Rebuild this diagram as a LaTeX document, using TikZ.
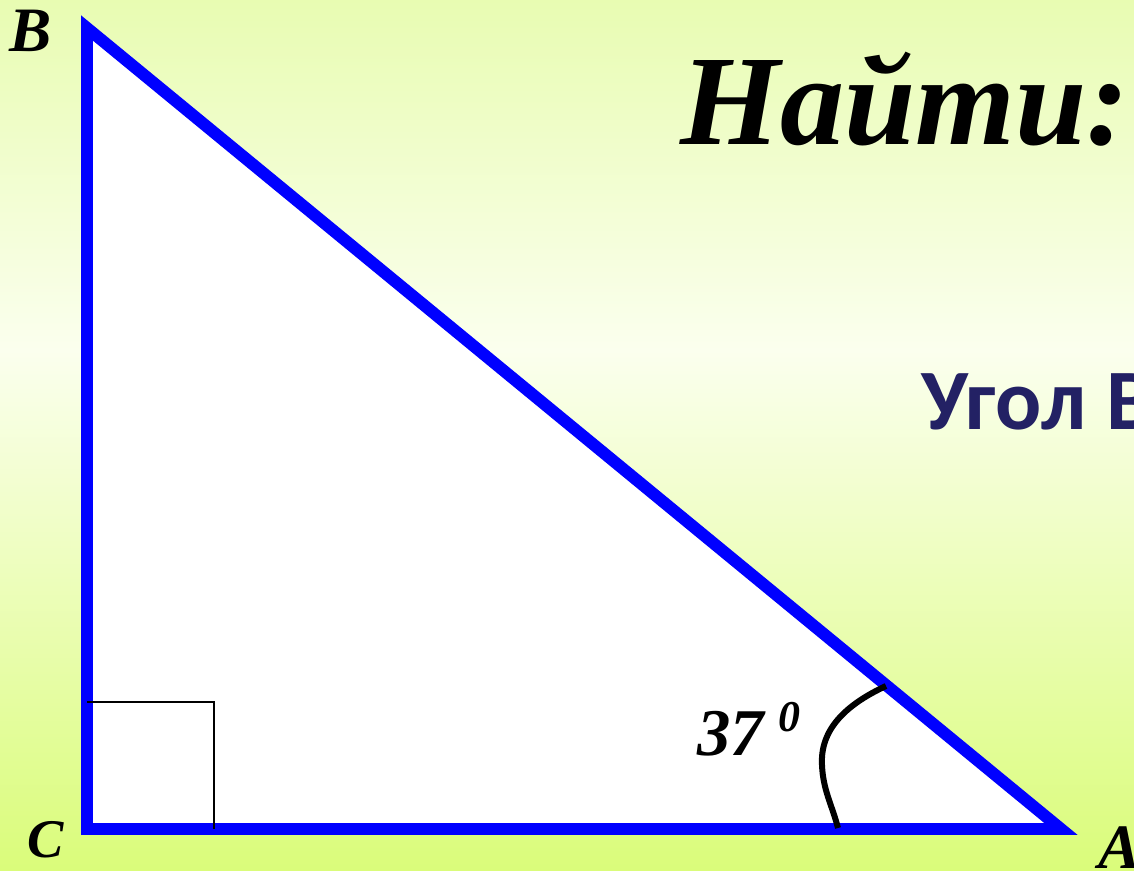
\documentclass[tikz,border=0pt]{standalone}
\usepackage{fontspec}
\setmainfont{Liberation Serif}
\newfontfamily\ugolfont{Carlito}
\usetikzlibrary{positioning}
\definecolor{bgtop}{RGB}{232,252,178}
\definecolor{bgmid}{RGB}{251,255,238}
\definecolor{bgbot}{RGB}{218,252,122}
\definecolor{ugolblue}{RGB}{35,33,100}

\begin{document}
\begin{tikzpicture}[x=0.02cm,y=-0.02cm]
  \tikzstyle{side}=[draw=blue, fill=white, line width=0.24cm, miter limit=10]
  \tikzstyle{rightmark}=[draw=black, line width=0.75pt]
  \tikzstyle{anglemark}=[draw=black, line width=0.12cm]
  \tikzstyle{vertex}=[inner sep=0pt, font=\fontsize{36}{40}\selectfont\bfseries\itshape]
  \useasboundingbox (0,0) rectangle (1134,871);
  \clip (0,0) rectangle (1134,871);
  \shade[top color=bgtop, bottom color=bgmid] (0,0) rectangle (1134,350);
  \shade[top color=bgmid, bottom color=bgbot] (0,350) rectangle (1134,871);
  % triangle
  \coordinate (B) at (87,28);
  \coordinate (C) at (87,829);
  \coordinate (A) at (1061,829);
  \draw[side] (B) -- (C) -- (A) -- cycle;
  % right angle at C
  \coordinate (r1) at (87,702);
  \coordinate (r2) at (214,702);
  \coordinate (r3) at (214,829);
  \draw[rightmark] (r1) -- (r2) -- (r3);
  % angle at A
  \coordinate (a1) at (886,686);
  \coordinate (a2) at (822,765);
  \coordinate (a3) at (838,828);
  \draw[anglemark] (a1) .. controls (845,705) and (820,730) .. (a2)
    .. controls (823,790) and (832,805) .. (a3);
  \node[vertex] (lblB) at (31,31) {B};
  \node[vertex, font=\fontsize{31}{36}\selectfont\bfseries\itshape] (lblC) at (46,840) {C};
  \node[vertex] (lblA) at (1120,848) {A};
  \node[vertex, anchor=base west, font=\fontsize{38}{42}\selectfont\bfseries\itshape]
    (deg) at (697,756) {37};
  \node[inner sep=0pt, anchor=base west, font=\fontsize{25}{28}\selectfont\bfseries\itshape]
    (degsup) at (778,732) {0};
  % texts
  \node[inner sep=0pt, anchor=base west, font=\fontsize{73}{80}\selectfont\bfseries\itshape]
    (find) at (680,145) {Найти:};
  \node[inner sep=0pt, anchor=base west, text=ugolblue,
    font=\ugolfont\fontsize{49}{55}\selectfont\bfseries] (ugol) at (921,430) {Угол В};
\end{tikzpicture}
\end{document}
